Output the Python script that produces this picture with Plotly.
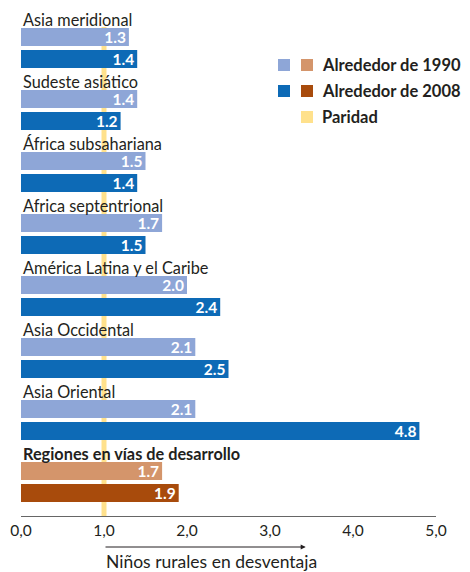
import plotly.graph_objects as go

# ---- data ----
regions = ["Asia meridional", "Sudeste asiático", "África subsahariana",
           "Africa septentrional", "América Latina y el Caribe",
           "Asia Occidental", "Asia Oriental", "Regiones en vías de desarrollo"]
val_1990 = [1.3, 1.4, 1.5, 1.7, 2.0, 2.1, 2.1, 1.7]
val_2008 = [1.4, 1.2, 1.4, 1.5, 2.4, 2.5, 4.8, 1.9]
tick_vals = [0, 1, 2, 3, 4, 5]
tick_text = ["0,0", "1,0", "2,0", "3,0", "4,0", "5,0"]
parity = 1.0
legend_labels = ["Alrededor de 1990", "Alrededor de 2008", "Paridad"]

# ---- style ----
OFF = 8  # default page body margin
W, H = 470 - OFF, 572 - OFF
ML, MR, MT, MB = 21 - OFF, 34, 10 - OFF, 56
PH = H - MT - MB
TXT = "#231F20"
LB, DB = "#8EA6D7", "#0D6AB6"
LO, DO = "#D4956B", "#A84B0C"
YEL = "#FFE18C"
FONT = "Lato"

GROUP = 62
lab_pos = [9.5 + GROUP * i for i in range(len(regions))]
y1 = [27 + GROUP * i for i in range(len(regions))]
y2 = [49 + GROUP * i for i in range(len(regions))]
n = len(regions)
c1 = [LB] * (n - 1) + [LO]
c2 = [DB] * (n - 1) + [DO]


def px(xp):  # page pixel -> paper x
    return (xp - OFF - ML) / (W - ML - MR)


def py(yp):  # page pixel -> paper y
    return (MT + PH - (yp - OFF)) / PH


fig = go.Figure()
for ys, vals, cols, name in [(y1, val_1990, c1, legend_labels[0]),
                             (y2, val_2008, c2, legend_labels[1])]:
    fig.add_trace(go.Bar(
        y=ys, x=vals, orientation="h", width=18, marker=dict(color=cols, line=dict(width=0)),
        text=[f"{v:.1f}" for v in vals], textposition="inside", insidetextanchor="end",
        textfont=dict(family=FONT, size=15.5, color="white", weight="bold"),
        constraintext="none", name=name, showlegend=False, hoverinfo="skip"))

shapes = [dict(type="rect", xref="x", yref="y", x0=parity - 0.03, x1=parity + 0.03,
               y0=17, y1=PH, fillcolor=YEL, line=dict(width=0), layer="below")]
annotations = []
for i, r in enumerate(regions):
    bold = i == n - 1
    annotations.append(dict(
        x=0, y=lab_pos[i], xref="x", yref="y", xanchor="left", yanchor="middle",
        text=f"<b>{r}</b>" if bold else r, showarrow=False,
        font=dict(family=FONT, size=16.3, color=TXT)))

# arrow + axis label
annotations.append(dict(x=3.43, y=py(547), xref="x", yref="paper", ax=parity, ay=0,
                        axref="x", ayref="pixel", text="", showarrow=True,
                        arrowhead=2, arrowsize=1, arrowwidth=1, arrowcolor=TXT))
annotations.append(dict(x=parity, y=py(561), xref="x", yref="paper", xanchor="left",
                        yanchor="middle", text="Niños rurales en desventaja",
                        showarrow=False, font=dict(family=FONT, size=17.5, color=TXT)))

# legend
rows = [(65, LB, LO), (91, DB, DO), (117, None, YEL)]
for (yc, ca, cb), lab in zip(rows, legend_labels):
    if ca:
        shapes.append(dict(type="rect", xref="paper", yref="paper", x0=px(278), x1=px(290),
                           y0=py(yc + 6), y1=py(yc - 6), fillcolor=ca, line=dict(width=0)))
    shapes.append(dict(type="rect", xref="paper", yref="paper", x0=px(301), x1=px(313),
                       y0=py(yc + 6), y1=py(yc - 6), fillcolor=cb, line=dict(width=0)))
    annotations.append(dict(x=px(320), y=py(yc), xref="paper", yref="paper",
                            xanchor="left", yanchor="middle", text=f"<b>{lab}</b>",
                            showarrow=False, font=dict(family=FONT, size=16.5, color=TXT)))

fig.update_layout(
    width=W, height=H, margin=dict(l=ML, r=MR, t=MT, b=MB, autoexpand=False),
    plot_bgcolor="white", paper_bgcolor="white", barmode="overlay",
    shapes=shapes, annotations=annotations, showlegend=False,
    xaxis=dict(range=[0, 5], tickvals=tick_vals, ticktext=tick_text, showgrid=False,
               zeroline=False, showline=True, linecolor="#666", linewidth=1.2,
               ticks="", tickfont=dict(family=FONT, size=15.5, color=TXT), fixedrange=True),
    yaxis=dict(range=[PH, 0], visible=False, fixedrange=True),
)
fig.write_html("out.html", config={"displayModeBar": False})
